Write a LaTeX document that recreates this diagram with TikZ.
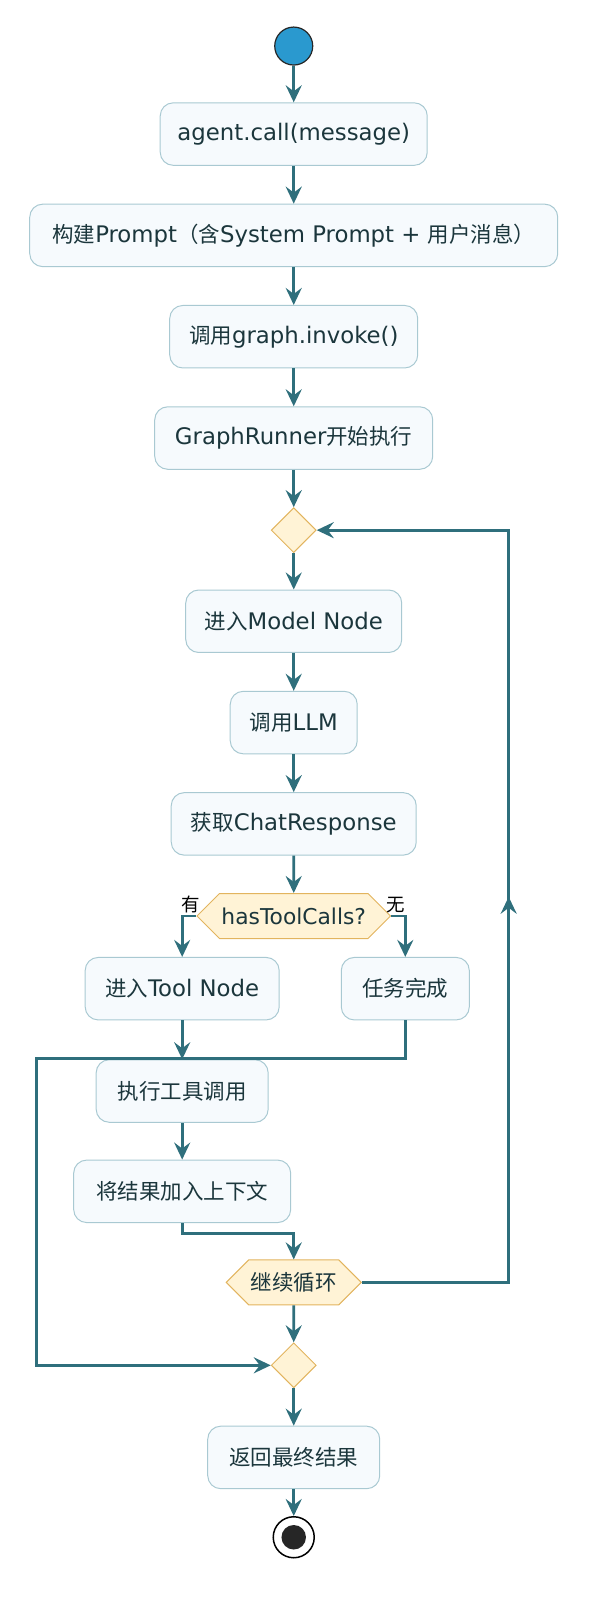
\documentclass[tikz,border=0pt]{standalone}
\usepackage{fontspec}
\setmainfont{DejaVu Sans}
\newfontfamily\cjkfam{Noto Sans CJK SC}
\newcommand\zh{\cjkfam\fontsize{21.5}{25}\selectfont}
\usetikzlibrary{arrows.meta,shapes.geometric,shapes.symbols,decorations.markings}
\definecolor{lin}{HTML}{2F6F7C}
\definecolor{boxf}{HTML}{F6FAFD}
\definecolor{boxd}{HTML}{A9C9D2}
\definecolor{decf}{HTML}{FFF3D6}
\definecolor{decd}{HTML}{E2B45E}
\definecolor{txt}{HTML}{1B363C}
\definecolor{startf}{HTML}{2A99CF}
\tikzset{
  x=1.0235pt,y=-1.0235pt,
  act/.style={draw=boxd,fill=boxf,line width=1pt,rounded corners=13pt,minimum height=62.5pt,
    inner sep=0pt,text=txt,font=\fontsize{22.8}{25}\selectfont},
  dec/.style={draw=decd,fill=decf,line width=1pt,diamond,minimum size=45pt,inner sep=0pt},
  hexa/.style={draw=decd,fill=decf,line width=1pt,signal,signal from=nowhere,signal to=west and east,
    signal pointer angle=90,minimum height=45pt,inner xsep=2pt,text=txt,font=\fontsize{21.8}{25}\selectfont},
  tip/.tip={Stealth[length=17pt,width=16pt,inset=6pt]},
  flow/.style={draw=lin,line width=2.7pt,-tip},
  lab/.style={font=\cjkfam\fontsize{18.5}{20}\selectfont,text=black}
}
\begin{document}
\begin{tikzpicture}
\useasboundingbox (0,0) rectangle (580.36,1568.2);
\node[circle,draw=black!85,line width=1.2pt,fill=startf,minimum size=38pt,inner sep=0pt] (st) at (287,45) {};
\node[act,minimum width=267pt] (a1) at (287,131) {agent.call(message)};
\node[act,minimum width=528pt] (a2) at (287,230) {{\zh 构建}Prompt{\zh （含}System Prompt + {\zh 用户消息）}};
\node[act,minimum width=248pt] (a3) at (287,329) {{\zh 调用}graph.invoke()};
\node[act,minimum width=278pt] (a4) at (287,428) {GraphRunner{\zh 开始执行}};
\node[dec] (d1) at (287,518) {};
\node[act,minimum width=216pt] (a5) at (287,607) {{\zh 进入}Model Node};
\node[act,minimum width=127pt] (a6) at (287,706) {{\zh 调用}LLM};
\node[act,minimum width=245pt] (a7) at (287,805) {{\zh 获取}ChatResponse};
\node[hexa,minimum width=184pt] (h1) at (287,895) {hasToolCalls?};
\node[act,minimum width=194pt] (a8) at (178,966) {{\zh 进入}Tool Node};
\node[act,minimum width=128pt] (a9) at (396,966) {\zh 任务完成};
\node[act,minimum width=172pt] (a10) at (178,1066) {\zh 执行工具调用};
\node[act,minimum width=217pt] (a11) at (178,1164) {\zh 将结果加入上下文};
\node[hexa,minimum width=130pt] (h2) at (287,1253) {\zh 继续循环};
\node[dec] (d2) at (287,1334) {};
\node[act,minimum width=172pt] (a12) at (287,1424) {\zh 返回最终结果};
\node[circle,draw=black,line width=1.5pt,fill=white,minimum size=41pt,inner sep=0pt] (en) at (287,1502) {};
\node[circle,fill=black!85,minimum size=24.5pt,inner sep=0pt] (enin) at (en) {};

\coordinate (lp1) at (497,1253);
\coordinate (lp2) at (497,518);
\coordinate (j1) at (396,1034);
\coordinate (j2) at (36,1034);
\coordinate (j3) at (36,1334);
\coordinate (k1) at (178,1205);
\coordinate (k2) at (287,1205);

\draw[flow] (st) -- (a1);
\draw[flow] (a1) -- (a2);
\draw[flow] (a2) -- (a3);
\draw[flow] (a3) -- (a4);
\draw[flow] (a4) -- (d1);
\draw[flow] (d1) -- (a5);
\draw[flow] (a5) -- (a6);
\draw[flow] (a6) -- (a7);
\draw[flow] (a7) -- (h1);
\draw[flow] (h1.west) -| (a8.north);
\draw[flow] (h1.east) -| (a9.north);
\node[lab] (ly) at (186,884) {有};
\node[lab] (ln) at (387,884) {无};
\draw[flow] (a8) -- (a10);
\draw[flow] (a10) -- (a11);
\draw[flow] (a11.south) -- (k1) -- (k2) -- (h2.north);
\draw[flow] (h2) -- (d2);
\draw[flow] (a9.south) -- (j1) -- (j2) -- (j3) -- (d2.west);
\draw[flow,postaction={decorate},decoration={markings,mark=at position 0.488 with {\arrow{tip}}}] (h2.east) -- (lp1) -- (lp2) -- (d1.east);
\draw[flow] (d2) -- (a12);
\draw[flow] (a12) -- (en);
\end{tikzpicture}
\end{document}
